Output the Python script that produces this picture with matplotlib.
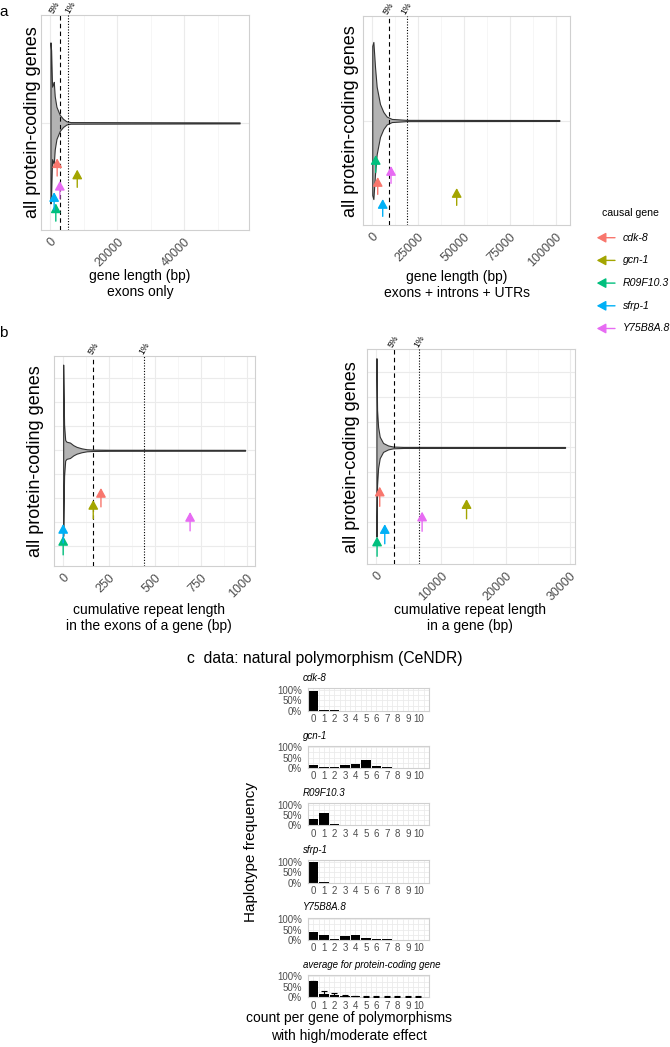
import matplotlib
matplotlib.use("Agg")
import matplotlib.pyplot as plt

plt.rcParams['font.family'] = ['Liberation Sans', 'DejaVu Sans']

# ---- data ----
genes = ['cdk-8', 'gcn-1', 'R09F10.3', 'sfrp-1', 'Y75B8A.8']
gene_colors = ['#F8766D', '#A3A500', '#00BF7D', '#00B0F6', '#E76BF3']

# a, left: gene length, exons only (violin outline: length vs relative half width)
exon_len = [0, 200, 480, 800, 990, 1280, 1790, 2780, 3770, 4770, 6000, 56500]
exon_width = [1.0, 0.9, 0.45, 0.48, 0.51, 0.33, 0.2, 0.1, 0.05, 0.02, 0.01, 0.006]
exon_gene_x = [2000, 8000, 1600, 1100, 2800]
exon_gene_y = [-0.44, -0.58, -1.0, -0.86, -0.72]
exon_p5, exon_p1 = 2780, 5170

# a, right: gene length, exons + introns + UTRs
full_len = [300, 900, 1800, 2700, 4500, 6300, 8150, 10900, 19000, 102000]
full_width = [0.95, 1.0, 0.68, 0.43, 0.21, 0.11, 0.05, 0.02, 0.008, 0.006]
full_gene_x = [3260, 46200, 2170, 5980, 10500]
full_gene_y = [-0.72, -0.86, -0.44, -1.0, -0.58]
full_p5, full_p1 = 9400, 19000

# b, left: cumulative repeat length in exons
rexon_len = [0, 5, 11, 18, 37, 55, 73, 100, 128, 164, 250, 992]
rexon_width = [1.0, 0.3, 0.12, 0.1, 0.09, 0.06, 0.04, 0.023, 0.012, 0.008, 0.006, 0.005]
rexon_gene_x = [206, 164, 0, 0, 692]
rexon_gene_y = [-0.44, -0.58, -1.0, -0.86, -0.72]
rexon_p5, rexon_p1 = 164, 440

# b, right: cumulative repeat length in gene
rgene_len = [0, 100, 260, 510, 1030, 1800, 2580, 4130, 29200]
rgene_width = [1.0, 0.42, 0.23, 0.12, 0.05, 0.022, 0.01, 0.006, 0.005]
rgene_gene_x = [510, 13950, 100, 1290, 7070]
rgene_gene_y = [-0.44, -0.58, -1.0, -0.86, -0.72]
rgene_p5, rgene_p1 = 2680, 6600

# c: haplotype frequency by polymorphism count
counts = list(range(11))
hap_titles = ['cdk-8', 'gcn-1', 'R09F10.3', 'sfrp-1', 'Y75B8A.8',
              'average for protein-coding gene']
hap_cdk8 = [0.97, 0.03, 0.02, 0, 0, 0, 0, 0, 0, 0, 0]
hap_gcn1 = [0.14, 0.06, 0.05, 0.15, 0.17, 0.38, 0.12, 0.03, 0.02, 0.02, 0]
hap_r09 = [0.29, 0.60, 0.06, 0.02, 0, 0, 0, 0, 0, 0, 0]
hap_sfrp1 = [0.97, 0.03, 0, 0, 0, 0, 0, 0, 0, 0, 0]
hap_y75 = [0.40, 0.23, 0.06, 0.18, 0.23, 0.08, 0.06, 0.03, 0, 0, 0]
hap_avg = [0.78, 0.16, 0.09, 0.05, 0.04, 0.03, 0.02, 0.02, 0.02, 0.02, 0.02]
hap_avg_sd = [0, 0.15, 0.10, 0.06, 0.04, 0.04, 0.03, 0.02, 0.02, 0.02, 0.02]

# ---- figure ----
W, H = 670, 1047
fig = plt.figure(figsize=(W / 100, H / 100), dpi=100)


def box(l, t, r, b):
    return fig.add_axes([l / W, 1 - b / H, (r - l) / W, (b - t) / H])


def ftext(x, y, s, **kw):
    fig.text(x / W, 1 - y / H, s, **kw)


GRID = '#ebebeb'
TICK = '#4d4d4d'


def violin_panel(rect, xs, ws, gx, gy, p5, p1, xlim, ylim, major, labels, minor, hgrid,
                 nudge=(0, 0)):
    ax = box(*rect)
    ax.fill_between(xs, [-w for w in ws], ws, facecolor='#b3b3b3',
                    edgecolor='#333333', lw=0.8, zorder=3)
    ax.set_xlim(*xlim)
    ax.set_ylim(*ylim)
    ax.set_xticks(major)
    ax.set_xticklabels(labels, rotation=45, ha='right', va='top',
                       rotation_mode='anchor')
    ax.set_xticks(minor, minor=True)
    ax.set_yticks(hgrid)
    ax.set_yticklabels([])
    ax.tick_params(which='both', length=0, labelsize=9, colors=TICK, pad=4)
    ax.grid(True, which='major', color=GRID, lw=0.8, zorder=0)
    ax.grid(True, which='minor', axis='x', color='#f3f3f3', lw=0.5, zorder=0)
    ax.set_axisbelow(True)
    for sp in ax.spines.values():
        sp.set_color('#d0d0d0')
        sp.set_linewidth(0.8)
    ax.axvline(p5, color='black', lw=0.8, ls=(0, (4, 3)), zorder=4)
    ax.axvline(p1, color='black', lw=0.8, ls=(0, (1, 1.5)), zorder=4)
    for p, s, dx in [(p5, '5%', nudge[0]), (p1, '1%', nudge[1])]:
        ax.annotate(s, xy=(p, 1), xycoords=('data', 'axes fraction'),
                    xytext=(dx, 0.3), textcoords='offset points',
                    rotation=60, ha='center', va='bottom', fontsize=6.3)
    for x, y, c in zip(gx, gy, gene_colors):
        ax.annotate('', xy=(x, y), xytext=(x, y - 0.22),
                    arrowprops=dict(arrowstyle='-|>,head_length=0.55,head_width=0.3',
                                    color=c, lw=1.0, shrinkA=0, shrinkB=0),
                    annotation_clip=False, zorder=5)
    return ax


violin_panel((41, 15, 249, 230), exon_len, exon_width, exon_gene_x, exon_gene_y,
             exon_p5, exon_p1, (-2825, 59300), (-1.33, 1.34),
             [0, 20000, 40000], ['0', '20000', '40000'], [10000, 30000, 50000], [0],
             nudge=(-4, 2))
violin_panel((362.7, 16, 570, 225), full_len, full_width, full_gene_x, full_gene_y,
             full_p5, full_p1, (-4900, 107800), (-1.33, 1.33),
             [0, 25000, 50000, 75000, 100000], ['0', '25000', '50000', '75000', '100000'],
             [12500, 37500, 62500, 87500], [0])
bgrid = [-1.12, -0.84, -0.56, -0.28, 0, 0.28, 0.56, 0.84]
violin_panel((54, 356, 255, 566), rexon_len, rexon_width, rexon_gene_x, rexon_gene_y,
             rexon_p5, rexon_p1, (-50, 1046), (-1.35, 1.10),
             [0, 250, 500, 750, 1000], ['0', '250', '500', '750', '1000'],
             [125, 375, 625, 875], bgrid)
violin_panel((367, 349.3, 574.5, 564.3), rgene_len, rgene_width, rgene_gene_x, rgene_gene_y,
             rgene_p5, rgene_p1, (-1460, 30660), (-1.31, 1.10),
             [0, 10000, 20000, 30000], ['0', '10000', '20000', '30000'],
             [5000, 15000, 25000], bgrid)

# y titles
for x, y in [(33, 122), (350.5, 121), (35.5, 461), (351.5, 457)]:
    ftext(x, y, 'all protein-coding genes', rotation=90, ha='center', va='center',
          fontsize=13)

# x titles
ftext(140, 284, 'gene length (bp)\nexons only', ha='center', va='center',
      fontsize=10, linespacing=1.1)
ftext(457, 285, 'gene length (bp)\nexons + introns + UTRs', ha='center', va='center',
      fontsize=10, linespacing=1.1)
ftext(149, 618, 'cumulative repeat length\nin the exons of a gene (bp)', ha='center',
      va='center', fontsize=10, linespacing=1.1)
ftext(470, 618, 'cumulative repeat length\nin a gene (bp)', ha='center',
      va='center', fontsize=10, linespacing=1.1)

ftext(3.5, 11.5, 'a', ha='center', va='center', fontsize=11)
ftext(3.5, 332.5, 'b', ha='center', va='center', fontsize=11)

# legend
ftext(601.7, 212.7, 'causal gene', ha='left', va='center', fontsize=7.6)
lax = box(590, 225, 670, 340)
lax.set_xlim(590, 670)
lax.set_ylim(340, 225)
lax.axis('off')
for i, (g, c) in enumerate(zip(genes, gene_colors)):
    yy = 237.7 + i * 22.7
    lax.annotate('', xy=(596.7, yy), xytext=(615, yy),
                 arrowprops=dict(arrowstyle='-|>,head_length=0.55,head_width=0.3',
                                 color=c, lw=1.0, shrinkA=0, shrinkB=0))
    lax.text(622.7, yy, g, ha='left', va='center', fontsize=7.6, style='italic')

# ---- panel c ----
ftext(187, 658, 'c  data: natural polymorphism (CeNDR)', ha='left', va='center',
      fontsize=11.3)
hap_series = [hap_cdk8, hap_gcn1, hap_r09, hap_sfrp1, hap_y75, hap_avg]
for i, (title, vals) in enumerate(zip(hap_titles, hap_series)):
    top = 688.3 + i * 57.3
    ax = box(307.7, top, 429.3, top + 22.4)
    if i == 5:
        ax.errorbar(counts, vals, yerr=[[0] * 11, hap_avg_sd], fmt='none',
                    ecolor='black', elinewidth=0.8, capsize=2.4, capthick=0.8, zorder=3)
    ax.bar(counts, vals, width=0.9, color='black', zorder=2)
    ax.set_xlim(-0.55, 11.05)
    ax.set_ylim(0, 1.08)
    ax.set_xticks(counts)
    ax.set_xticks([c + 0.5 for c in counts], minor=True)
    ax.set_yticks([0, 0.5, 1])
    ax.set_yticklabels(['0%', '50%', '100%'])
    ax.set_yticks([0.25, 0.75], minor=True)
    ax.tick_params(which='both', length=0, labelsize=7, colors=TICK, pad=2.5)
    ax.tick_params(axis='y', pad=4)
    ax.grid(True, which='both', color=GRID, lw=0.6, zorder=0)
    ax.set_axisbelow(True)
    for sp in ax.spines.values():
        sp.set_color('#d0d0d0')
        sp.set_linewidth(0.8)
    ftext(303, top - 10, title, ha='left', va='center', fontsize=7, style='italic')

ftext(251.5, 852.5, 'Haplotype frequency', rotation=90, ha='center', va='center',
      fontsize=11)
ftext(349, 1027, 'count per gene of polymorphisms\nwith high/moderate effect',
      ha='center', va='center', fontsize=10, linespacing=1.45)

fig.savefig('out.png', dpi=100)
